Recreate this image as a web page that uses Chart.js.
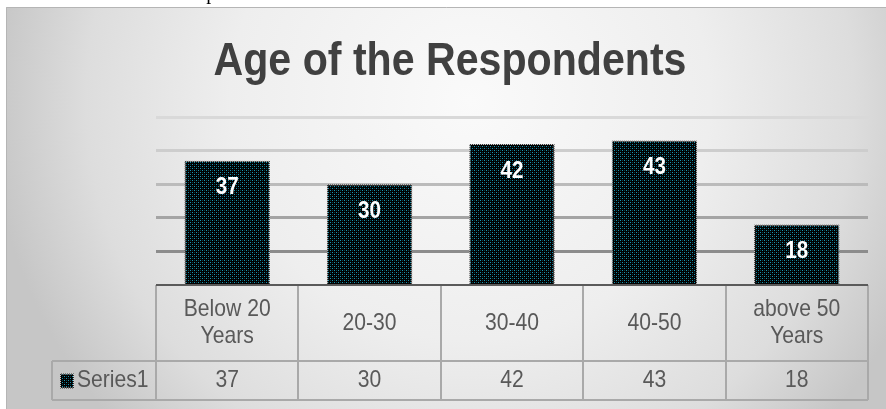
<!DOCTYPE html>
<html>
<head>
<meta charset="utf-8">
<title>Age of the Respondents</title>
<script src="https://cdn.jsdelivr.net/npm/chart.js@4.4.1/dist/chart.umd.min.js"></script>
<style>
  html, body { margin: 0; padding: 0; background: #fff; }
  #wrap { position: relative; width: 886px; height: 409px; overflow: hidden; }
  #wrap canvas { position: absolute; left: 0; top: 0; }
  #above { position: absolute; left: 183px; top: -18px; font: 20px 'Liberation Serif', 'Times New Roman', serif; line-height: 20px; color: #000; }
</style>
</head>
<body>
<div id="wrap">
  <canvas id="ages" width="886" height="409"></canvas>
  <div id="above">respondents.</div>
</div>
<script>
'use strict';

// age groups (multi-line labels are arrays) and counts
const categories = [['Below 20', 'Years'], '20-30', '30-40', '40-50', ['above 50', 'Years']];
const seriesName = 'Series1';
const respondents = [37, 30, 42, 43, 18];
const chartTitle = 'Age of the Respondents';

const SANS = "'Liberation Sans', Arial, sans-serif";

const canvas = document.getElementById('ages');
const mainCtx = canvas.getContext('2d');

// black fill speckled with teal dots
function dotPattern() {
    const c = document.createElement('canvas');
    c.width = 4; c.height = 4;
    const g = c.getContext('2d');
    g.fillStyle = '#000'; g.fillRect(0, 0, 4, 4);
    g.fillStyle = '#1a95b0'; g.fillRect(0, 0, 1, 1); g.fillRect(2, 2, 1, 1);
    g.fillStyle = '#073e48'; g.fillRect(2, 0, 1, 1); g.fillRect(0, 2, 1, 1);
    return mainCtx.createPattern(c, 'repeat');
}

// light/dark checker so the bar edges look dotted
function edgePattern() {
    const c = document.createElement('canvas');
    c.width = 2; c.height = 2;
    const g = c.getContext('2d');
    g.fillStyle = '#cfcfcf'; g.fillRect(0, 0, 2, 2);
    g.fillStyle = '#333'; g.fillRect(0, 0, 1, 1); g.fillRect(1, 1, 1, 1);
    return mainCtx.createPattern(c, 'repeat');
}

const barFill = dotPattern();
const barEdge = edgePattern();

const gridColors = { 0: '#5a5a5a', 10: '#8c8c8c', 20: '#a4a4a4', 30: '#bbbbbb', 40: '#cdcdcd', 50: '#d9d9d9' };

// narrow-looking text: regular sans squeezed horizontally
function squishText(ctx, text, x, y, font, k, align, baseline) {
    ctx.save();
    ctx.font = font;
    ctx.textAlign = align || 'center';
    ctx.textBaseline = baseline || 'middle';
    ctx.translate(x, y);
    ctx.scale(k, 1);
    ctx.fillText(text, 0, 0);
    ctx.restore();
}

// grey radial backdrop with a thin frame on the top/left, plus the heading
const backdrop = {
    id: 'backdrop',
    beforeDraw(chart) {
        const { ctx, width, height } = chart;
        ctx.save();
        ctx.fillStyle = '#fff';
        ctx.fillRect(0, 0, width, height);
        const g = ctx.createRadialGradient(470, 100, 0, 470, 100, 480);
        g.addColorStop(0, '#fafafa');
        g.addColorStop(0.5, '#eeeeee');
        g.addColorStop(0.8, '#dddddd');
        g.addColorStop(1, '#c6c6c6');
        ctx.fillStyle = g;
        ctx.fillRect(6, 7, width - 6, height - 7);
        ctx.strokeStyle = '#b5b5b5';
        ctx.lineWidth = 1;
        ctx.beginPath();
        ctx.moveTo(6.5, height);
        ctx.lineTo(6.5, 7.5);
        ctx.lineTo(width, 7.5);
        ctx.stroke();

        ctx.fillStyle = '#404040';
        squishText(ctx, chartTitle, 450, 75, 'bold 47px ' + SANS, 0.875, 'center', 'alphabetic');
        ctx.restore();
    }
};

// white value labels just inside the top of each bar
const barValues = {
    id: 'barValues',
    afterDatasetsDraw(chart) {
        const { ctx } = chart;
        const values = chart.data.datasets[0].data;
        ctx.save();
        ctx.fillStyle = '#fff';
        chart.getDatasetMeta(0).data.forEach((bar, i) => {
            squishText(ctx, String(values[i]), bar.x, bar.y + 27, 'bold 24px ' + SANS, 0.86);
        });
        ctx.restore();
    }
};

// data table under the plot: category row, then the series row with its key
const dataTable = {
    id: 'dataTable',
    afterDraw(chart) {
        const { ctx, chartArea } = chart;
        const x = chart.scales.x;
        const n = chart.data.labels.length;
        const step = (chartArea.right - chartArea.left) / n;
        const top = chartArea.bottom;
        const mid = top + 76;
        const bottom = mid + 39;
        const keyLeft = 52;

        ctx.save();
        ctx.strokeStyle = '#a9a9a9';
        ctx.lineWidth = 2;
        ctx.beginPath();
        for (let i = 0; i <= n; i++) {
            const xx = Math.round(x.getPixelForValue(Math.min(i, n - 1)) + (i < n ? -step / 2 : step / 2));
            ctx.moveTo(xx, top);
            ctx.lineTo(xx, bottom);
        }
        ctx.moveTo(keyLeft, mid); ctx.lineTo(chartArea.right, mid);
        ctx.moveTo(keyLeft, bottom); ctx.lineTo(chartArea.right, bottom);
        ctx.moveTo(keyLeft, mid); ctx.lineTo(keyLeft, bottom);
        ctx.stroke();

        ctx.strokeStyle = '#5a5a5a';
        ctx.beginPath();
        ctx.moveTo(chartArea.left, top);
        ctx.lineTo(chartArea.right, top);
        ctx.stroke();

        ctx.fillStyle = '#595959';
        const font = '24px ' + SANS;
        const values = chart.data.datasets[0].data;
        chart.data.labels.forEach((lab, i) => {
            const cx = x.getPixelForValue(i);
            const lines = Array.isArray(lab) ? lab : [lab];
            lines.forEach((t, j) => {
                squishText(ctx, t, cx, (top + mid) / 2 + (j - (lines.length - 1) / 2) * 27, font, 0.88);
            });
            squishText(ctx, String(values[i]), cx, (mid + bottom) / 2, font, 0.88);
        });

        // legend key
        const ky = (mid + bottom) / 2;
        ctx.fillStyle = barEdge;
        ctx.fillRect(60, ky - 7, 14, 15);
        ctx.fillStyle = barFill;
        ctx.fillRect(61, ky - 6, 12, 13);
        ctx.fillStyle = '#595959';
        squishText(ctx, chart.data.datasets[0].label, 77, ky, font, 0.88, 'left');
        ctx.restore();
    }
};

new Chart(canvas, {
    type: 'bar',
    data: {
        labels: categories,
        datasets: [{
            label: seriesName,
            data: respondents,
            backgroundColor: barFill,
            borderColor: barEdge,
            borderWidth: 1,
            barPercentage: 0.6,
            categoryPercentage: 1
        }]
    },
    options: {
        responsive: false,
        animation: false,
        layout: { padding: { left: 32, right: 18, top: 117, bottom: 124 } },
        plugins: {
            legend: { display: false },
            tooltip: { enabled: false },
            title: { display: false }
        },
        scales: {
            x: { display: false },
            y: {
                min: 0,
                max: 50,
                ticks: { display: false, stepSize: 10 },
                border: { display: false },
                grid: {
                    drawTicks: false,
                    color: (c) => gridColors[c.tick.value] || '#ccc',
                    lineWidth: (c) => c.tick.value === 0 ? 2 : 3
                },
                afterFit(scale) { scale.width = 124; }
            }
        }
    },
    plugins: [backdrop, barValues, dataTable]
});
</script>
</body>
</html>
